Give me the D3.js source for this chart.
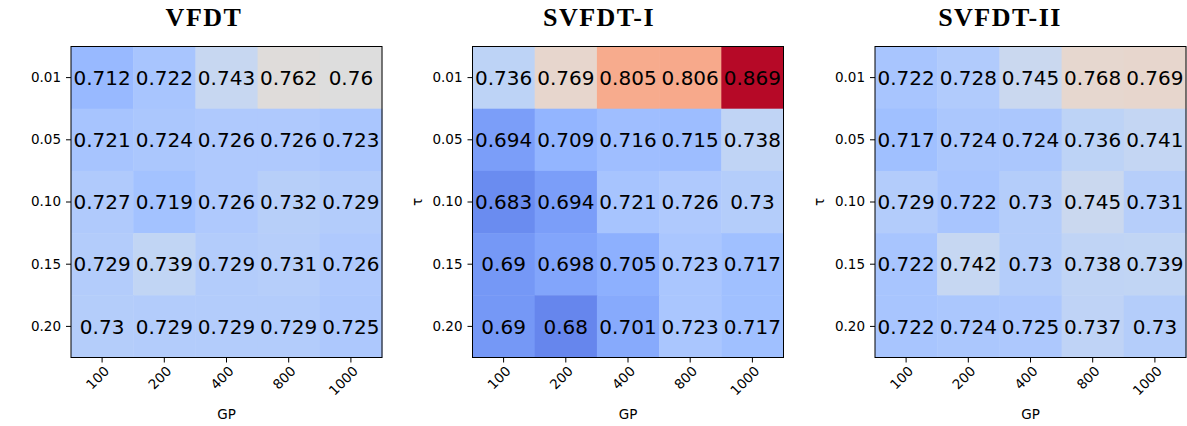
<!DOCTYPE html>
<html>
<head>
<meta charset="utf-8">
<script src="https://cdn.jsdelivr.net/npm/d3@7"></script>
<style>
  body { margin: 0; background: #fff; }
  svg { display: block; }
</style>
</head>
<body>
<div id="chart-area"></div>
<script>
// data
const gpLabels = ["100", "200", "400", "800", "1000"];
const tauLabels = ["0.01", "0.05", "0.10", "0.15", "0.20"];
const titles = ["VFDT", "SVFDT-I", "SVFDT-II"];

const vfdt = [
  [0.712, 0.722, 0.743, 0.762, 0.76],
  [0.721, 0.724, 0.726, 0.726, 0.723],
  [0.727, 0.719, 0.726, 0.732, 0.729],
  [0.729, 0.739, 0.729, 0.731, 0.726],
  [0.73, 0.729, 0.729, 0.729, 0.725]
];
const svfdt1 = [
  [0.736, 0.769, 0.805, 0.806, 0.869],
  [0.694, 0.709, 0.716, 0.715, 0.738],
  [0.683, 0.694, 0.721, 0.726, 0.73],
  [0.69, 0.698, 0.705, 0.723, 0.717],
  [0.69, 0.68, 0.701, 0.723, 0.717]
];
const svfdt2 = [
  [0.722, 0.728, 0.745, 0.768, 0.769],
  [0.717, 0.724, 0.724, 0.736, 0.741],
  [0.729, 0.722, 0.73, 0.745, 0.731],
  [0.722, 0.742, 0.73, 0.738, 0.739],
  [0.722, 0.724, 0.725, 0.737, 0.73]
];
const matrices = [vfdt, svfdt1, svfdt2];
const showTau = [false, true, true];

const width = 1187;
const height = 426;

const svg = d3.select("#chart-area")
    .append("svg")
    .attr("width", width)
    .attr("height", height);

// coolwarm (Moreland) table, 33 stops
const coolwarm = [
  [59,76,192],[68,90,204],[77,104,215],[87,117,225],[98,130,234],[108,142,241],
  [119,154,247],[130,165,251],[141,176,254],[152,185,255],[163,194,255],[174,201,253],
  [184,208,249],[194,213,244],[204,217,238],[213,219,230],[221,221,221],[229,216,209],
  [236,211,197],[241,204,184],[245,196,173],[247,187,160],[247,177,148],[247,166,135],
  [244,154,123],[241,141,111],[236,127,99],[229,112,88],[222,96,77],[213,80,66],
  [203,62,56],[192,40,47],[180,4,38]
].map(c => d3.rgb(c[0], c[1], c[2]));

const vmin = 0.65, vmax = 0.87;
const color = d3.scaleLinear()
    .domain(coolwarm.map((c, i) => vmin + (vmax - vmin) * i / (coolwarm.length - 1)))
    .range(coolwarm)
    .interpolate(d3.interpolateRgb)
    .clamp(true);

const lefts = [71, 472.5, 875];
const titleX = [204, 599, 1000];
const plotTop = 46.5;
const size = 311;

matrices.forEach((m, p) => {
  const g = svg.append("g").attr("transform", `translate(${lefts[p]},${plotTop})`);

  const x = d3.scaleBand().domain(gpLabels).range([0, size]);
  const y = d3.scaleBand().domain(tauLabels).range([0, size]);

  const cells = [];
  m.forEach((row, i) => row.forEach((v, j) => cells.push({ tau: tauLabels[i], gp: gpLabels[j], v: v })));

  g.selectAll("rect.cell")
    .data(cells)
    .enter()
    .append("rect")
    .attr("class", "cell")
    .attr("x", d => x(d.gp))
    .attr("y", d => y(d.tau))
    .attr("width", x.bandwidth() + 0.5)
    .attr("height", y.bandwidth() + 0.5)
    .attr("fill", d => color(d.v));

  g.selectAll("text.val")
    .data(cells)
    .enter()
    .append("text")
    .attr("class", "val")
    .attr("x", d => x(d.gp) + x.bandwidth() / 2)
    .attr("y", d => y(d.tau) + y.bandwidth() / 2)
    .attr("dy", "0.36em")
    .attr("text-anchor", "middle")
    .style("font-family", "'DejaVu Sans', sans-serif")
    .style("font-size", "20px")
    .attr("fill", "#000")
    .text(d => String(d.v));

  // frame
  g.append("rect")
    .attr("width", size)
    .attr("height", size)
    .attr("fill", "none")
    .attr("stroke", "#000")
    .attr("stroke-width", 1);

  // axes
  const yAxis = g.append("g")
    .call(d3.axisLeft(y).tickSize(5).tickPadding(5));
  yAxis.select(".domain").remove();
  yAxis.selectAll("text")
    .style("font-family", "'DejaVu Sans', sans-serif")
    .style("font-size", "13.5px")
    .attr("fill", "#000");
  yAxis.selectAll("line").attr("stroke", "#000");

  const xAxis = g.append("g")
    .attr("transform", `translate(0,${size})`)
    .call(d3.axisBottom(x).tickSize(5));
  xAxis.select(".domain").remove();
  xAxis.selectAll("line").attr("stroke", "#000");
  xAxis.selectAll("text")
    .attr("x", 0)
    .attr("y", 0)
    .attr("dy", 0)
    .attr("text-anchor", "end")
    .attr("transform", "translate(8,14.5) rotate(-45)")
    .style("font-family", "'DejaVu Sans', sans-serif")
    .style("font-size", "13.5px")
    .attr("fill", "#000");

  // labels
  svg.append("text")
    .attr("x", lefts[p] + size / 2)
    .attr("y", 419)
    .attr("text-anchor", "middle")
    .style("font-family", "'DejaVu Sans', sans-serif")
    .style("font-size", "13.5px")
    .text("GP");

  if (showTau[p]) {
    svg.append("text")
      .attr("transform", `translate(${lefts[p] - 51},${plotTop + size / 2}) rotate(-90)`)
      .attr("text-anchor", "middle")
      .style("font-family", "'DejaVu Sans', sans-serif")
      .style("font-size", "13.5px")
      .text("τ");
  }

  svg.append("text")
    .attr("x", titleX[p])
    .attr("y", 26)
    .attr("text-anchor", "middle")
    .style("font-family", "'Liberation Serif', serif")
    .style("font-weight", "bold")
    .style("font-size", "26px")
    .style("letter-spacing", "1.5px")
    .text(titles[p]);
});
</script>
</body>
</html>
